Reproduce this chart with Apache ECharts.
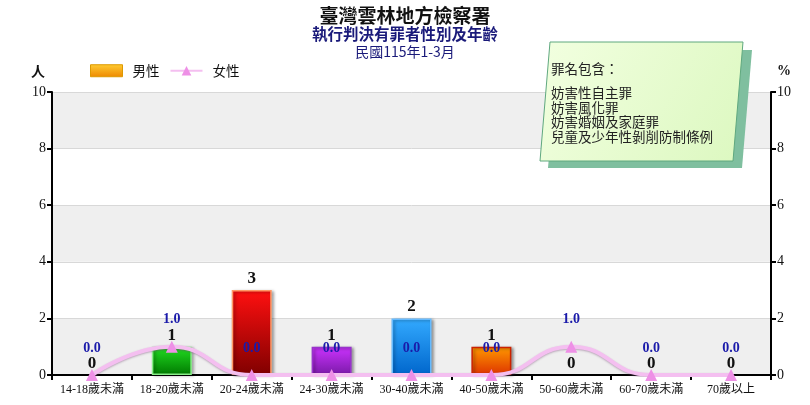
<!DOCTYPE html>
<html><head><meta charset="utf-8">
<script src="https://cdn.jsdelivr.net/npm/echarts@6/dist/echarts.min.js"></script>
<style>html,body{margin:0;padding:0;background:#fff}#c{width:810px;height:405px}</style>
</head><body><div id="c"></div>
<script>
const categories = ['14-18歲未滿','18-20歲未滿','20-24歲未滿','24-30歲未滿','30-40歲未滿','40-50歲未滿','50-60歲未滿','60-70歲未滿','70歲以上'];
const maleValues = [0,1,3,1,2,1,0,0,0];
const femaleValues = [0.0,1.0,0.0,0.0,0.0,0.0,1.0,0.0,0.0];
const yTicks = [0,2,4,6,8,10];
const noteHeader = '罪名包含：';
const crimeNotes = ['妨害性自主罪','妨害風化罪','妨害婚姻及家庭罪','兒童及少年性剝削防制條例'];
const barColors = [
  ['#ffcc33','#ee8800'],
  ['#22dd22','#007a00'],
  ['#ff1010','#800000'],
  ['#cc33ff','#7a1aa8'],
  ['#33aaff','#0066cc'],
  ['#ff9900','#dd3300'],
  ['#ffcc33','#ee8800'],
  ['#ffcc33','#ee8800'],
  ['#ffcc33','#ee8800']
];
const barBorders = ['#dd9900','#88ee88','#ff9966','#9933cc','#66bbff','#cc2200','#dd9900','#dd9900','#dd9900'];
function grad(c){return new echarts.graphic.LinearGradient(0,0,0,1,[{offset:0,color:c[0]},{offset:1,color:c[1]}]);}
const chart = echarts.init(document.getElementById('c'));
const serif = '"Liberation Serif","Noto Sans CJK TC",serif';
const cjk = '"Noto Sans CJK TC",sans-serif';
chart.setOption({
  animation:false,
  title:[
    {text:'臺灣雲林地方檢察署',left:'center',top:1,textStyle:{fontFamily:cjk,fontSize:19,fontWeight:'bold',color:'#111'}},
    {text:'執行判決有罪者性別及年齡',left:'center',top:21,textStyle:{fontFamily:cjk,fontSize:15.5,fontWeight:'bold',color:'#1a1a7a'}},
    {text:'民國115年1-3月',left:'center',top:40,textStyle:{fontFamily:cjk,fontSize:14,fontWeight:'normal',color:'#1a1a7a'}}
  ],
  legend:{
    left:85,top:59,itemWidth:32,itemHeight:12,itemGap:10,
    textStyle:{fontFamily:cjk,fontSize:13.5,color:'#111',padding:[0,0,0,5]},
    data:[
      {name:'男性',icon:'rect',itemStyle:{color:grad(['#ffcc33','#ee8800']),borderColor:'#dd9900',borderWidth:1}},
      {name:'女性'}
    ]
  },
  grid:{left:52,right:39,top:92,bottom:30},
  xAxis:{
    type:'category',data:categories,boundaryGap:true,
    axisLine:{lineStyle:{color:'#000',width:2}},
    axisTick:{show:true,alignWithLabel:false,length:5,lineStyle:{color:'#000',width:2}},
    axisLabel:{fontFamily:serif,fontSize:12,color:'#111',margin:9,interval:0}
  },
  yAxis:[
    {type:'value',min:0,max:10,interval:2,
     axisLine:{show:true,lineStyle:{color:'#000',width:2}},
     axisTick:{show:true,length:5,lineStyle:{color:'#000',width:2}},
     axisLabel:{fontFamily:serif,fontSize:14,color:'#111',margin:6},
     splitLine:{show:true,lineStyle:{color:'#d8d8d8',width:1}},
     splitArea:{show:true,areaStyle:{color:['#efefef','#ffffff']}}},
    {type:'value',min:0,max:10,interval:2,position:'right',
     axisLine:{show:true,lineStyle:{color:'#000',width:2}},
     axisTick:{show:true,length:5,lineStyle:{color:'#000',width:2}},
     axisLabel:{fontFamily:serif,fontSize:14,color:'#111',margin:6},
     splitLine:{show:false}}
  ],
  series:[
    {name:'男性',type:'bar',barWidth:40,yAxisIndex:0,
     data:maleValues.map((v,i)=>({value:v,itemStyle:v>0?{color:grad(barColors[i]),borderColor:barBorders[i],borderWidth:1.5,shadowColor:'rgba(0,0,0,0.35)',shadowBlur:3,shadowOffsetX:2,shadowOffsetY:1}:{color:'transparent',borderWidth:0}})),
     itemStyle:{color:grad(['#ffcc33','#ee8800'])},
     label:{show:true,position:'top',distance:3,fontFamily:serif,fontWeight:'bold',fontSize:17,color:'#111'}},
    {name:'女性',type:'line',yAxisIndex:1,smooth:0.5,data:femaleValues,
     symbol:'triangle',symbolSize:12,
     lineStyle:{color:'#f4bff0',width:4,shadowColor:'rgba(120,80,120,0.45)',shadowBlur:2,shadowOffsetY:1},
     itemStyle:{color:'#ee90e6'},
     label:{show:true,position:'top',distance:14,fontFamily:serif,fontWeight:'bold',fontSize:14,color:'#1a1aaa',formatter:p=>p.value.toFixed(1)},
     z:5}
  ],
  graphic:[
    {type:'text',left:31,top:64,style:{text:'人',fontFamily:cjk,fontSize:14,fontWeight:'bold',fill:'#111'}},
    {type:'text',left:777,top:64,style:{text:'%',fontFamily:serif,fontSize:14,fontWeight:'bold',fill:'#111'}},
    {type:'polygon',shape:{points:[[558,50],[752,50],[742,168],[548,168]]},style:{fill:'#7fbf9f'},z:10},
    {type:'polygon',shape:{points:[[550,42],[743,42],[733,161],[540,161]]},
     style:{fill:new echarts.graphic.LinearGradient(0,0,1,1,[{offset:0,color:'#f2ffe0'},{offset:1,color:'#dcf8c0'}]),stroke:'#5fa87f',lineWidth:1},z:11},
    {type:'text',left:551,top:62,z:12,style:{text:noteHeader,fontFamily:cjk,fontSize:13.5,fill:'#222'}},
    {type:'text',left:551,top:86,z:12,style:{text:crimeNotes.join('\n'),fontFamily:cjk,fontSize:13.5,lineHeight:14.5,fill:'#222'}}
  ]
});
</script></body></html>
